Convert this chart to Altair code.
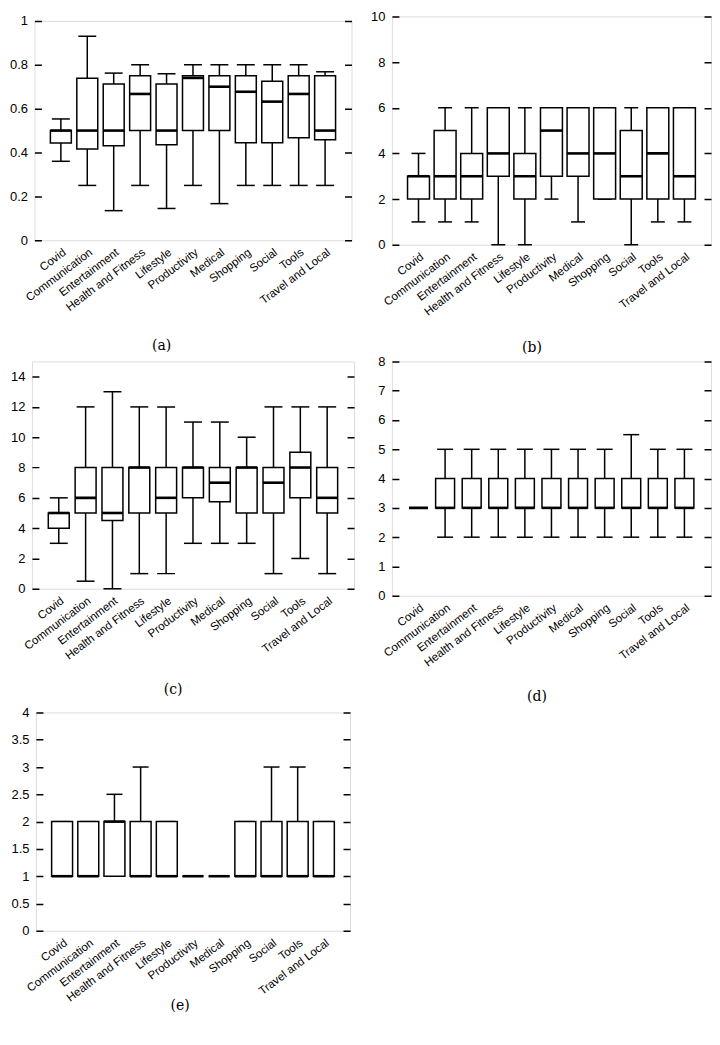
import altair as alt
import pandas as pd

categories = ["Covid", "Communication", "Entertainment", "Health and Fitness",
              "Lifestyle", "Productivity", "Medical", "Shopping", "Social",
              "Tools", "Travel and Local"]

# (a)
a_low = [0.36, 0.25, 0.135, 0.25, 0.145, 0.25, 0.167, 0.25, 0.25, 0.25, 0.25]
a_q1 = [0.443, 0.416, 0.431, 0.50, 0.435, 0.50, 0.50, 0.444, 0.444, 0.467, 0.458]
a_med = [0.50, 0.50, 0.50, 0.667, 0.50, 0.74, 0.70, 0.677, 0.632, 0.667, 0.50]
a_q3 = [0.50, 0.738, 0.712, 0.75, 0.712, 0.75, 0.75, 0.75, 0.725, 0.75, 0.75]
a_high = [0.553, 0.93, 0.762, 0.80, 0.759, 0.80, 0.80, 0.80, 0.80, 0.80, 0.768]
a_ticks = [0, 0.2, 0.4, 0.6, 0.8, 1]

# (b)
b_low = [1, 1, 1, 0, 0, 2, 1, 2, 0, 1, 1]
b_q1 = [2, 2, 2, 3, 2, 3, 3, 2, 2, 2, 2]
b_med = [3, 3, 3, 4, 3, 5, 4, 4, 3, 4, 3]
b_q3 = [3, 5, 4, 6, 4, 6, 6, 6, 5, 6, 6]
b_high = [4, 6, 6, 6, 6, 6, 6, 6, 6, 6, 6]
b_ticks = [0, 2, 4, 6, 8, 10]

# (c)
c_low = [3, 0.5, 0, 1, 1, 3, 3, 3, 1, 2, 1]
c_q1 = [4, 5, 4.5, 5, 5, 6, 5.75, 5, 5, 6, 5]
c_med = [5, 6, 5, 8, 6, 8, 7, 8, 7, 8, 6]
c_q3 = [5, 8, 8, 8, 8, 8, 8, 8, 8, 9, 8]
c_high = [6, 12, 13, 12, 12, 11, 11, 10, 12, 12, 12]
c_ticks = [0, 2, 4, 6, 8, 10, 12, 14]

# (d)
d_low = [3, 2, 2, 2, 2, 2, 2, 2, 2, 2, 2]
d_q1 = [3, 3, 3, 3, 3, 3, 3, 3, 3, 3, 3]
d_med = [3, 3, 3, 3, 3, 3, 3, 3, 3, 3, 3]
d_q3 = [3, 4, 4, 4, 4, 4, 4, 4, 4, 4, 4]
d_high = [3, 5, 5, 5, 5, 5, 5, 5, 5.5, 5, 5]
d_ticks = [0, 1, 2, 3, 4, 5, 6, 7, 8]

# (e)
e_low = [1, 1, 1, 1, 1, 1, 1, 1, 1, 1, 1]
e_q1 = [1, 1, 1, 1, 1, 1, 1, 1, 1, 1, 1]
e_med = [1, 1, 2, 1, 1, 1, 1, 1, 1, 1, 1]
e_q3 = [2, 2, 2, 2, 2, 1, 1, 2, 2, 2, 2]
e_high = [2, 2, 2.5, 3, 2, 1, 1, 2, 3, 3, 2]
e_ticks = [0, 0.5, 1, 1.5, 2, 2.5, 3, 3.5, 4]

LW = 1.5


def panel(low, q1, med, q3, high, ymax, ticks, fmt, width, height,
          caption, cap_x, cap_y, box_w, cap_w):
    df = pd.DataFrame({"category": categories, "low": low, "q1": q1,
                       "med": med, "q3": q3, "high": high})
    xaxis = alt.Axis(
        title=caption, labelAngle=323, labelAlign="right", labelBaseline="top",
        labelPadding=6, labelFont="Liberation Sans", labelFontSize=11.5,
        labelColor="black", labelOverlap=False, domain=False, ticks=False,
        grid=False, titleFont="DejaVu Serif", titleFontSize=14,
        titleFontWeight="normal", titleColor="black", titleX=cap_x,
        titleY=cap_y, titleAlign="center", titleBaseline="middle")
    yaxis = alt.Axis(
        values=ticks, format=fmt, title=None, domain=False, ticks=False,
        grid=True, gridColor="black", gridWidth=1.5, gridOpacity=1,
        gridDash=[7, width - 14], labelFont="Liberation Sans",
        labelFontSize=13, labelColor="black", labelPadding=7)
    xs = alt.Scale(type="point", padding=1)
    ys = alt.Scale(domain=[0, ymax], nice=False)

    def X():
        return alt.X("category:N", sort=categories, scale=xs, axis=xaxis)

    def Y(f):
        return alt.Y(f + ":Q", scale=ys, axis=yaxis)

    base = alt.Chart(df)
    lower = base.mark_rule(color="black", strokeWidth=LW).encode(
        x=X(), y=Y("low"), y2="q1:Q")
    upper = base.mark_rule(color="black", strokeWidth=LW).encode(
        x=X(), y=Y("q3"), y2="high:Q")
    cap_lo = base.mark_tick(color="black", size=cap_w, thickness=LW,
                            opacity=1).encode(x=X(), y=Y("low"))
    cap_hi = base.mark_tick(color="black", size=cap_w, thickness=LW,
                            opacity=1).encode(x=X(), y=Y("high"))
    box = base.mark_bar(fill="white", stroke="black", strokeWidth=LW,
                        size=box_w).encode(x=X(), y=Y("q1"), y2="q3:Q")
    median = base.mark_tick(color="black", size=box_w, thickness=2.6,
                            opacity=1).encode(x=X(), y=Y("med"))
    return alt.layer(lower, upper, cap_lo, cap_hi, box, median).properties(
        width=width, height=height)


pa = panel(a_low, a_q1, a_med, a_q3, a_high, 1, a_ticks, ".1~f", 318, 220,
           "(a)", 127, 106, 21, 18)
pb = panel(b_low, b_q1, b_med, b_q3, b_high, 10, b_ticks, "d", 320, 229,
           "(b)", 140, 103, 22, 14)
pc = panel(c_low, c_q1, c_med, c_q3, c_high, 15, c_ticks, "d", 323, 228,
           "(c)", 141, 101, 21, 18)
pd_ = panel(d_low, d_q1, d_med, d_q3, d_high, 8, d_ticks, "d", 320, 235,
            "(d)", 145, 101, 19, 16)
pe = panel(e_low, e_q1, e_med, e_q3, e_high, 4, e_ticks, ".1~f", 315, 219,
           "(e)", 144, 75, 21, 16)

chart = alt.concat(
    pa, pb, pc, pd_, pe, columns=2,
    spacing={"row": 117, "column": 38},
    bounds="flush", align="each", center=True,
).properties(
    padding={"left": 0, "top": 0, "right": 0, "bottom": 0}
).configure_view(
    stroke="black", strokeWidth=LW
).configure(background="white")

chart.save("out.html", embed_options={"renderer": "svg", "actions": False})
